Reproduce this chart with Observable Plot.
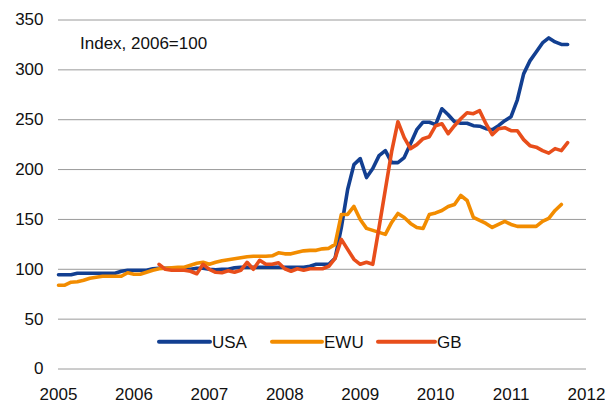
<!DOCTYPE html>
<html>
<head>
<meta charset="utf-8">
<script src="https://cdn.jsdelivr.net/npm/d3@7"></script>
<script src="https://cdn.jsdelivr.net/npm/@observablehq/plot@0.6"></script>
<style>
  html, body { margin: 0; padding: 0; background: #fff; }
  #chart svg { display: block; }
</style>
</head>
<body>
<div id="chart"></div>
<script>
// Monthly index values (2006 = 100); month 0 = January 2005
const usaStart = 0;
const usa = [94.5, 94.5, 94.5, 96, 96, 96, 96, 96, 96, 96, 98, 99,
  99, 99, 99, 100.5, 101, 101, 101, 100.5, 100.5, 100, 101, 101,
  100, 99.5, 100, 100, 101.5, 102, 102, 102, 102, 102, 102, 102,
  102, 102, 102, 102, 103, 105, 105, 105, 111, 142, 180, 205,
  211, 192, 201, 214, 219, 207, 207, 212, 226, 240, 247.5, 247.5,
  245, 261, 255, 248, 246.5, 246.5, 244, 243.5, 241, 240, 244, 249,
  253, 270, 296, 309, 318, 327, 332, 328, 325.5, 325.5];

const ewuStart = 0;
const ewu = [84, 84, 87, 87.5, 89, 91, 92, 93, 93, 93, 93, 96.5,
  95, 95, 97, 99, 100.5, 101, 101.5, 102, 102, 104, 106, 107,
  105, 107, 108.5, 109.5, 110.5, 111.5, 112.5, 113, 113, 113, 113.5, 116.5,
  115.5, 115.5, 117, 118.5, 119, 119, 120.5, 121, 125, 155, 155, 163,
  150, 141, 139, 137, 135, 147, 156, 152, 146, 142, 141, 155,
  156.5, 159, 163, 165, 174, 169, 152, 149, 146, 142, 145, 148,
  145, 143, 143, 143, 143, 148, 151, 159, 165];

const gbStart = 16; // May 2006
const gb = [105, 100, 99, 99, 99, 98, 95.5, 105,
  100, 97, 96.5, 98.5, 97, 99, 107, 100, 109, 105, 105, 106.5,
  100.5, 98, 100.5, 99, 100.5, 100.5, 100.5, 103, 111, 130, 120, 110,
  105, 107, 105, 142, 180, 218, 248, 232, 221, 225, 231, 233,
  244, 246, 236, 244, 251, 257, 256, 259, 246, 235, 241, 242,
  239, 239, 230, 224, 222.5, 219, 216.5, 221, 219, 227];

const seriesNames = ["USA", "EWU", "GB"];
const seriesColors = ["#123F91", "#F28C00", "#E84E1B"];
const yearTicks = [2005, 2006, 2007, 2008, 2009, 2010, 2011, 2012];
const valueTicks = [0, 50, 100, 150, 200, 250, 300, 350];
const unitLabel = "Index, 2006=100";

function toRows(name, start, values) {
  return values.map((v, i) => ({series: name, t: 2005 + (start + i) / 12, v}));
}
const rows = [
  ...toRows("USA", usaStart, usa),
  ...toRows("EWU", ewuStart, ewu),
  ...toRows("GB", gbStart, gb)
];

const font = "'Liberation Sans', Arial, sans-serif";

const svg = Plot.plot({
  width: 605,
  height: 403,
  marginLeft: 58,
  marginRight: 19,
  marginTop: 19.5,
  marginBottom: 34.5,
  style: {fontFamily: font, fontSize: "17px", color: "#111", background: "#fff"},
  x: {domain: [2005, 2012], label: null},
  y: {domain: [0, 350], label: null},
  color: {domain: seriesNames, range: seriesColors},
  marks: [
    Plot.gridY(valueTicks, {stroke: "#9a9a9a", strokeOpacity: 1, strokeWidth: 1}),
    Plot.axisY(valueTicks, {tickSize: 0, tickPadding: 15, tickFormat: d => String(d), label: null}),
    Plot.axisX(yearTicks, {tickSize: 0, tickPadding: 19, tickFormat: d => String(d), label: null}),
    Plot.line(rows, {x: "t", y: "v", z: "series", stroke: "series",
      strokeWidth: 3.6, strokeLinejoin: "round", strokeLinecap: "round"})
  ]
});

document.getElementById("chart").appendChild(svg);

const s = d3.select(svg);
s.append("text")
  .attr("x", 80).attr("y", 48.7)
  .attr("text-anchor", "start")
  .attr("font-family", font).attr("font-size", 17).attr("fill", "#111")
  .text(unitLabel);

const legendItems = [
  {x1: 159, x2: 210, tx: 212},
  {x1: 272, x2: 322, tx: 324},
  {x1: 378, x2: 435, tx: 437}
];
const lg = s.append("g");
seriesNames.forEach((name, i) => {
  const it = legendItems[i];
  lg.append("line")
    .attr("x1", it.x1).attr("x2", it.x2).attr("y1", 341.7).attr("y2", 341.7)
    .attr("stroke", seriesColors[i]).attr("stroke-width", 4).attr("stroke-linecap", "round");
  lg.append("text")
    .attr("x", it.tx).attr("y", 347.8)
    .attr("text-anchor", "start")
    .attr("font-family", font).attr("font-size", 17).attr("fill", "#111")
    .text(name);
});
</script>
</body>
</html>
